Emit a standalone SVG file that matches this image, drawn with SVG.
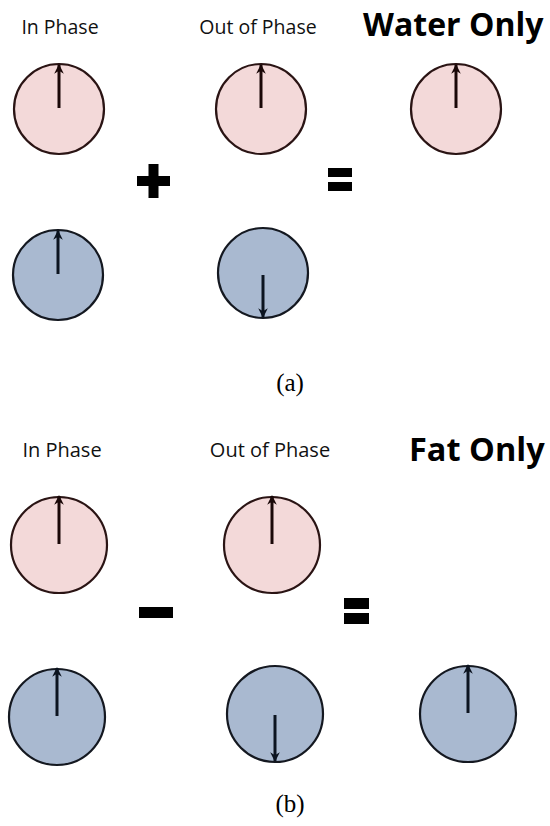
<svg xmlns="http://www.w3.org/2000/svg" width="550" height="826" viewBox="0 0 550 826">
<defs>
<style>
.lbl{font-family:"Open Sans","Liberation Sans",sans-serif;font-size:19.5px;fill:#111}
.lblb{font-family:"Open Sans","Liberation Sans",sans-serif;font-size:20px;fill:#111}
.ttl{font-family:"Open Sans","Liberation Sans",sans-serif;font-size:32px;font-weight:bold;fill:#000}
.ttlb{font-family:"Open Sans","Liberation Sans",sans-serif;font-size:32.5px;font-weight:bold;fill:#000}
.cap{font-family:"Liberation Serif","Times New Roman",serif;font-size:25px;fill:#000}
.pink{fill:#f3d9d9;stroke:#2a1414;stroke-width:2.2}
.blue{fill:#a9b9d0;stroke:#141820;stroke-width:2.2}
.arr{stroke:#1a0808;stroke-width:3;fill:none;marker-end:url(#ah)}
.arrb{stroke:#0c1420;stroke-width:3;fill:none;marker-end:url(#ahb)}
.op{fill:#000}
</style>
<marker id="ah" viewBox="0 0 10 10" refX="9" refY="5" markerWidth="3.2" markerHeight="3.2" orient="auto" markerUnits="strokeWidth">
<path d="M0,0 L10,5 L0,10 L3,5 z" fill="#1a0808"/>
</marker>
<marker id="ahb" viewBox="0 0 10 10" refX="9" refY="5" markerWidth="3.2" markerHeight="3.2" orient="auto" markerUnits="strokeWidth">
<path d="M0,0 L10,5 L0,10 L3,5 z" fill="#0c1420"/>
</marker>
</defs>
<rect width="550" height="826" fill="#fff"/>

<g id="labels-a">
<text class="lbl" x="60" y="34" text-anchor="middle">In Phase</text>
<text class="lbl" x="258" y="34" text-anchor="middle">Out of Phase</text>
<text class="ttl" x="363" y="36">Water Only</text>
</g>

<g id="a-inphase-water"><circle class="pink" cx="59" cy="109" r="45"/><line class="arr" x1="59" y1="108" x2="59" y2="65"/></g>
<g id="a-outphase-water"><circle class="pink" cx="261" cy="109" r="45"/><line class="arr" x1="261" y1="108" x2="261" y2="65"/></g>
<g id="a-result-water"><circle class="pink" cx="456" cy="109" r="45"/><line class="arr" x1="456" y1="108" x2="456" y2="65"/></g>
<g id="a-inphase-fat"><circle class="blue" cx="58" cy="275" r="45"/><line class="arrb" x1="58" y1="274" x2="58" y2="231"/></g>
<g id="a-outphase-fat"><circle class="blue" cx="263" cy="273" r="45"/><line class="arrb" x1="263" y1="275" x2="263" y2="317"/></g>

<g id="a-plus"><rect class="op" x="137" y="176" width="33" height="10"/><rect class="op" x="148.5" y="164" width="10" height="34"/></g>
<g id="a-equals"><rect class="op" x="328" y="168" width="24" height="9"/><rect class="op" x="328" y="182" width="24" height="9"/></g>
<text class="cap" x="290" y="391" text-anchor="middle">(a)</text>

<g id="labels-b">
<text class="lblb" x="62" y="457" text-anchor="middle">In Phase</text>
<text class="lblb" x="270" y="457" text-anchor="middle">Out of Phase</text>
<text class="ttlb" x="409" y="461">Fat Only</text>
</g>

<g id="b-inphase-water"><circle class="pink" cx="59" cy="545" r="48"/><line class="arr" x1="59" y1="544" x2="59" y2="496"/></g>
<g id="b-outphase-water"><circle class="pink" cx="272" cy="545" r="48"/><line class="arr" x1="272" y1="544" x2="272" y2="496"/></g>
<g id="b-inphase-fat"><circle class="blue" cx="57" cy="717" r="48"/><line class="arrb" x1="57" y1="716" x2="57" y2="668"/></g>
<g id="b-outphase-fat"><circle class="blue" cx="275" cy="714" r="48"/><line class="arrb" x1="275" y1="715" x2="275" y2="761"/></g>
<g id="b-result-fat"><circle class="blue" cx="468" cy="714" r="48"/><line class="arrb" x1="468" y1="713" x2="468" y2="665"/></g>

<g id="b-minus"><rect class="op" x="139" y="607" width="34" height="11"/></g>
<g id="b-equals"><rect class="op" x="344" y="598" width="25" height="11"/><rect class="op" x="344" y="613" width="25" height="11"/></g>
<text class="cap" x="290" y="812" text-anchor="middle">(b)</text>
</svg>
